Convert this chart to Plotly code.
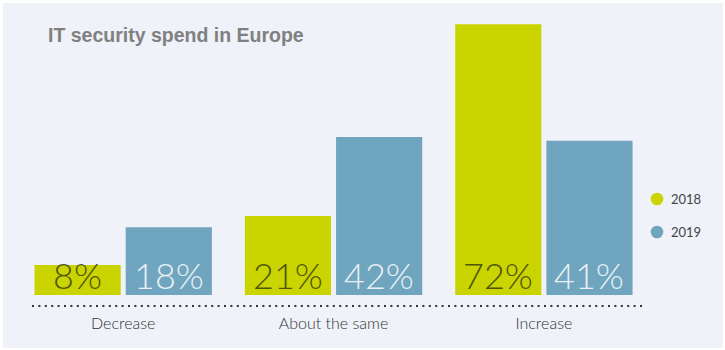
import plotly.graph_objects as go

categories = ["Decrease", "About the same", "Increase"]
series_names = ["2018", "2019"]
values_2018 = [8, 21, 72]
values_2019 = [18, 42, 41]
title_text = "IT security spend in Europe"

bar_colors = ["#c9d400", "#6fa5bf"]
text_colors = ["#50560a", "#e9f0f5"]
value_font = dict(family="Lato", size=36, weight=300)

# plot-area geometry (pixels)
L, R, T, B = 17, 77, 13, 40
PW, PH = 725 - L - R, 350 - T - B
BARGAP, GROUPGAP = 0.133, 0.055
slot_px = PW / 3 * (1 - BARGAP) / 2
offsets = [-slot_px / 2, slot_px / 2]


def px_x(p):
    return (p - L) / PW


def px_y(p):
    return (350 - B - p) / PH


fig = go.Figure()
annotations = []
for name, vals, col, tcol, off in zip(series_names, [values_2018, values_2019], bar_colors,
                                      text_colors, offsets):
    fig.add_trace(go.Bar(
        x=categories, y=vals, name=name, marker=dict(color=col, line=dict(width=0)),
        showlegend=False, hoverinfo="skip",
    ))
    for c, v in zip(categories, vals):
        annotations.append(dict(text=f"{v}%", x=c, y=0, xref="x", yref="y", xshift=off,
                                yanchor="bottom", yshift=-4, showarrow=False,
                                font=dict(color=tcol, **value_font)))

shapes = [
    dict(type="rect", xref="paper", yref="paper", x0=px_x(3), x1=px_x(723),
         y0=px_y(348), y1=px_y(3), fillcolor="#eff2f8", line=dict(width=0), layer="below"),
    dict(type="line", xref="paper", yref="paper", x0=px_x(32), x1=px_x(645),
         y0=px_y(306), y1=px_y(306), line=dict(color="#333333", width=2, dash="2px,4.4px")),
]
legend_rows = [199, 232]
for name, col, yy in zip(series_names, bar_colors, legend_rows):
    shapes.append(dict(type="circle", xref="paper", yref="paper", xsizemode="pixel",
                       ysizemode="pixel", xanchor=px_x(657), yanchor=px_y(yy),
                       x0=-6.3, x1=6.3, y0=-6.3, y1=6.3, fillcolor=col, line=dict(width=0)))
    annotations.append(dict(text=name, xref="paper", yref="paper", x=px_x(669), y=px_y(yy),
                            xanchor="left", yanchor="middle", showarrow=False,
                            font=dict(family="Lato", size=13, color="#444444")))

fig.update_layout(
    width=725, height=350,
    margin=dict(l=L, r=R, t=T, b=B),
    paper_bgcolor="white", plot_bgcolor="rgba(0,0,0,0)",
    barmode="group", bargap=BARGAP, bargroupgap=GROUPGAP,
    showlegend=False,
    title=dict(text="<b>" + title_text + "</b>", x=48 / 725, xanchor="left", xref="container",
               y=1 - 35 / 350, yanchor="middle", yref="container",
               font=dict(family="Liberation Sans, Arial", size=19.5, color="#808080")),
    xaxis=dict(range=[-0.505, 2.495], showgrid=False, zeroline=False, showline=False, ticks="",
               ticklabelstandoff=2,
               tickfont=dict(family="Lato", size=16, color="#333333", weight=300)),
    yaxis=dict(range=[-4, 75], visible=False, fixedrange=True),
    shapes=shapes, annotations=annotations,
)

fig.write_html("out.html")
